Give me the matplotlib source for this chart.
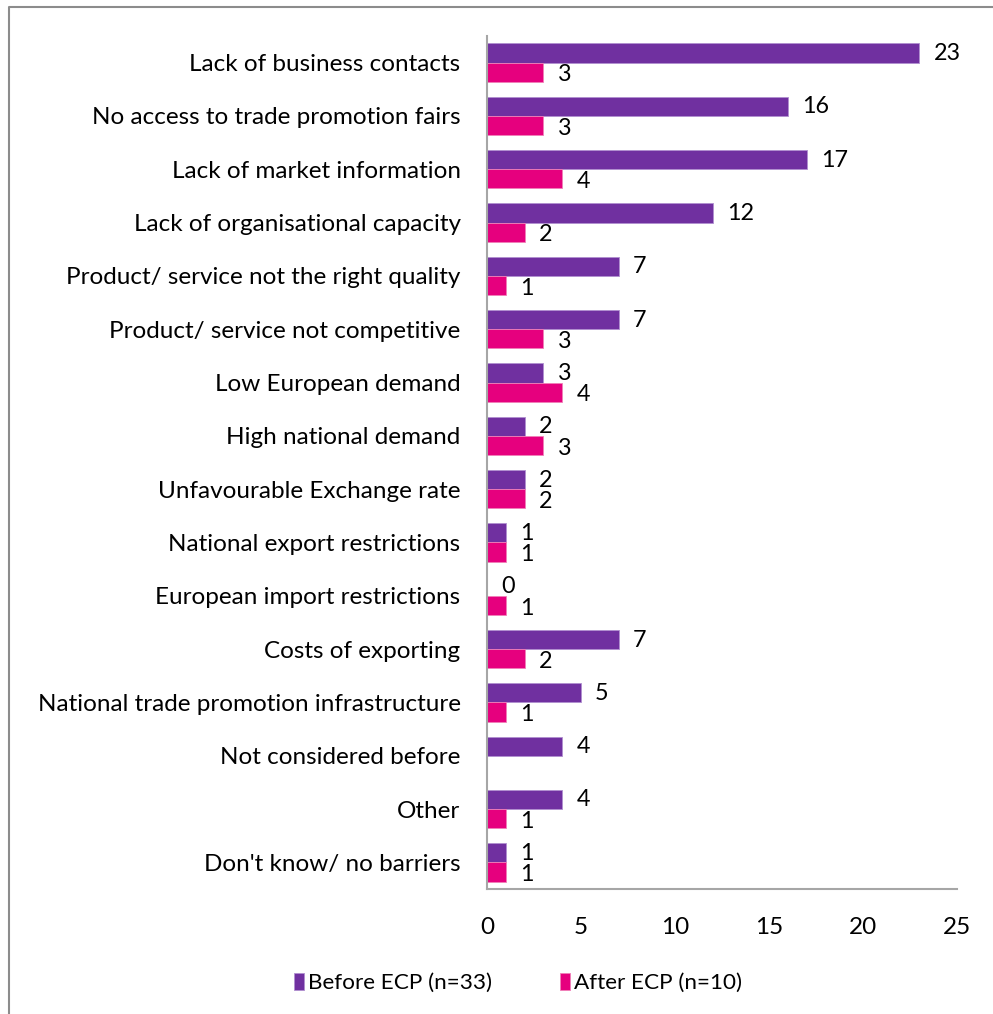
import matplotlib as mpl
import matplotlib.pyplot as plt
import numpy as np

mpl.rcParams["font.family"] = ["Lato", "DejaVu Sans"]
mpl.rcParams["font.size"] = 17.5

categories = [
    "Lack of business contacts",
    "No access to trade promotion fairs",
    "Lack of market information",
    "Lack of organisational capacity",
    "Product/ service not the right quality",
    "Product/ service not competitive",
    "Low European demand",
    "High national demand",
    "Unfavourable Exchange rate",
    "National export restrictions",
    "European import restrictions",
    "Costs of exporting",
    "National trade promotion infrastructure",
    "Not considered before",
    "Other",
    "Don't know/ no barriers",
]
before = [23, 16, 17, 12, 7, 7, 3, 2, 2, 1, 0, 7, 5, 4, 4, 1]
after = [3, 3, 4, 2, 1, 3, 4, 3, 2, 1, 1, 2, 1, None, 1, 1]
series_names = ["Before ECP (n=33)", "After ECP (n=10)"]

PURPLE = "#7030A0"
PINK = "#E6007E"

fig = plt.figure(figsize=(9.93, 10.14), dpi=100)
ax = fig.add_axes([487 / 993, 1 - 889 / 1014, 470 / 993, 853 / 1014])

y = np.arange(len(categories))
h = 0.36
b1 = ax.barh(y - h / 2, before, height=h, color=PURPLE, edgecolor="#B08FD0",
             linewidth=0.6, label=series_names[0])
after_vals = [v if v is not None else 0 for v in after]
b2 = ax.barh(y + h / 2, after_vals, height=h, color=PINK, edgecolor="#F080B8",
             linewidth=0.6, label=series_names[1])

# value labels just past each bar end
for yi, v in zip(y, before):
    ax.text(v + 0.75, yi - h / 2 + 0.01, f"{v}", va="center", ha="left", fontsize=16.8)
for yi, v in zip(y, after):
    if v is None:
        continue
    ax.text(v + 0.75, yi + h / 2 + 0.05, f"{v}", va="center", ha="left", fontsize=16.8)

ax.set_ylim(len(categories) - 0.5, -0.5)
ax.set_xlim(0, 25)
ax.set_xticks([0, 5, 10, 15, 20, 25])
ax.set_yticks(y)
ax.set_yticklabels(categories)
ax.tick_params(axis="both", length=0, labelsize=17.5)
ax.tick_params(axis="y", pad=19)
ax.tick_params(axis="x", pad=20)
for side in ["top", "right"]:
    ax.spines[side].set_visible(False)
for side in ["left", "bottom"]:
    ax.spines[side].set_color("#A6A6A6")
    ax.spines[side].set_linewidth(1.5)

leg = fig.legend(handles=[b1, b2], labels=series_names, loc="center",
                 bbox_to_anchor=(518 / 993, 1 - 983 / 1014), ncol=2, frameon=False,
                 handlelength=0.45, handleheight=0.8, handletextpad=0.2,
                 columnspacing=3.0, fontsize=16.2)

# outer chart frame (left and top edges)
frame = mpl.lines.Line2D([9 / 993, 9 / 993, 1.0], [0.0, 1 - 7 / 1014, 1 - 7 / 1014],
                         transform=fig.transFigure, color="#8C8C8C", linewidth=1.5)
fig.add_artist(frame)

fig.savefig("out.png", dpi=100, facecolor="white")
